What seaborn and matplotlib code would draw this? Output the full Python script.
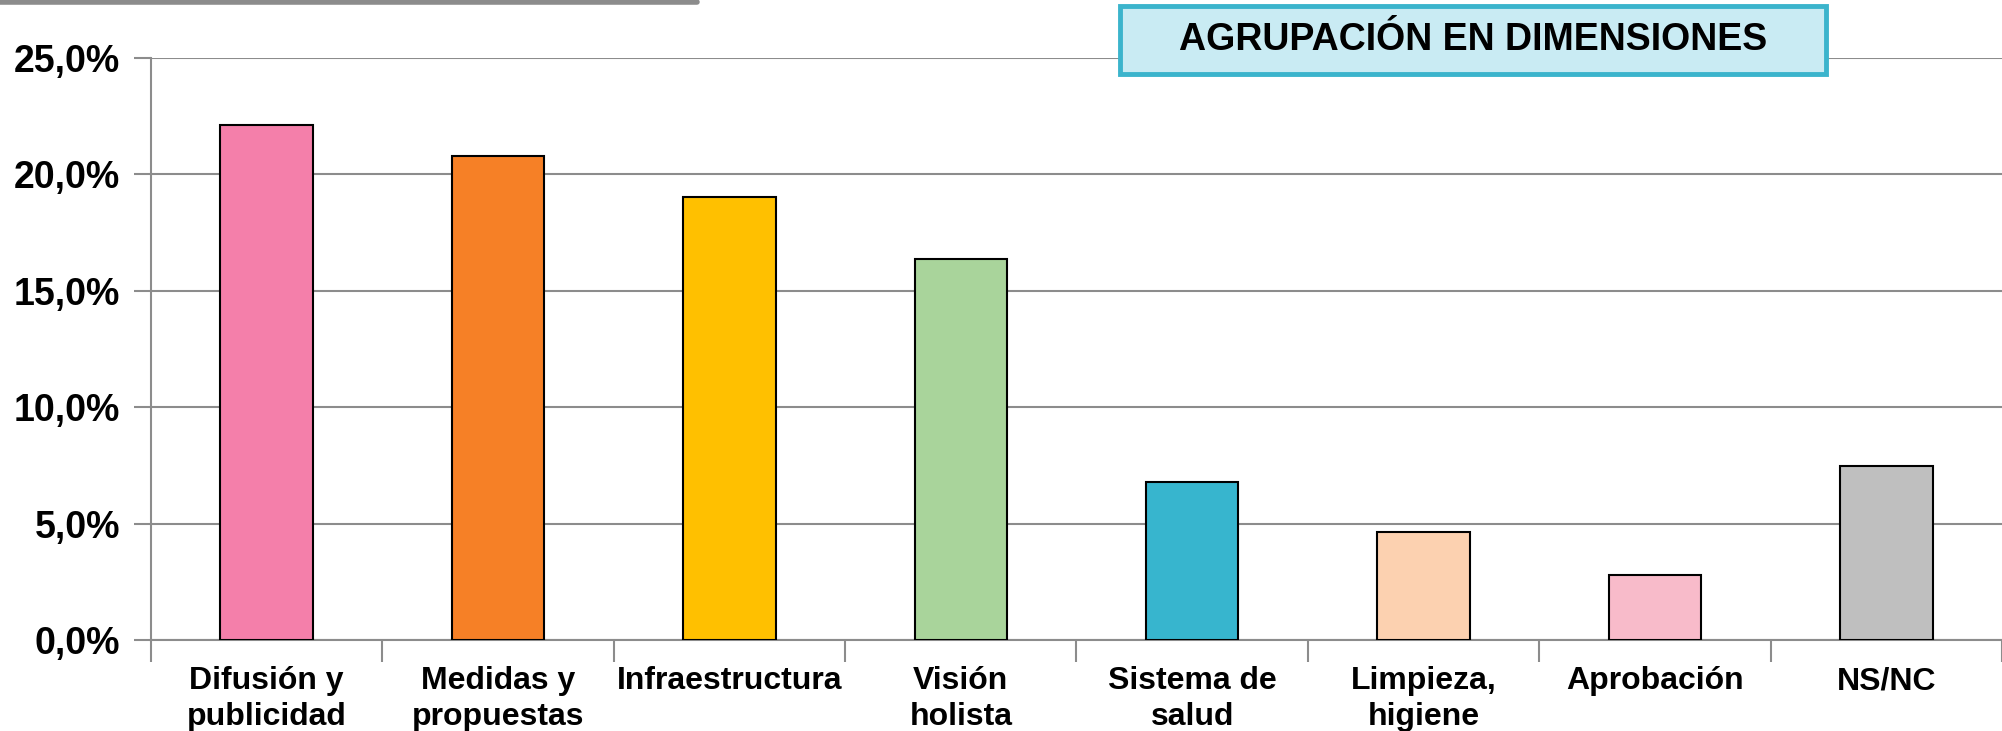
import numpy as np
import pandas as pd
import matplotlib
matplotlib.use("Agg")
import matplotlib.pyplot as plt
import matplotlib.lines as mlines
import matplotlib.patches as mpatches
import seaborn as sns

sns.set_theme(style="white")
plt.rcParams["font.family"] = ["Liberation Sans", "DejaVu Sans"]
plt.rcParams["text.color"] = "black"
plt.rcParams["xtick.labelcolor"] = "black"
plt.rcParams["ytick.labelcolor"] = "black"

categories = ["Difusión y\npublicidad", "Medidas y\npropuestas", "Infraestructura", "Visión\nholista",
              "Sistema de\nsalud", "Limpieza,\nhigiene", "Aprobación", "NS/NC"]
values = [22.1, 20.8, 19.0, 16.35, 6.8, 4.65, 2.8, 7.45]
colors = ["#F47FAA", "#F68026", "#FFC000", "#A9D49B", "#37B5CE", "#FCD1B0", "#F8BBCA", "#BFBFBF"]
yticks = [0, 5, 10, 15, 20, 25]
title = "AGRUPACIÓN EN DIMENSIONES"

df = pd.DataFrame({"cat": categories, "val": values})

fig = plt.figure(figsize=(20.02, 7.31), dpi=100)
ax = fig.add_axes([0.0754, 0.1245, 0.9246, 0.7966])

sns.barplot(data=df, x="cat", y="val", hue="cat", palette=colors, legend=False, saturation=1,
            width=0.4, edgecolor="black", linewidth=1.5, ax=ax, zorder=3)

ax.set_ylim(0, 25)
ax.set_xlim(-0.5, len(categories) - 0.5)
ax.set_yticks(yticks)
ax.set_yticklabels([f"{v:.1f}%".replace(".", ",") for v in yticks],
                   fontsize=27, fontweight="bold", color="black")
ax.yaxis.grid(True, color="#8C8C8C", linewidth=1.5, zorder=0)
ax.set_axisbelow(True)

# category boundaries as major ticks, labels on minor ticks
ax.set_xticks(np.arange(len(categories) + 1) - 0.5)
ax.set_xticklabels([])
ax.set_xticks(np.arange(len(categories)), minor=True)
ax.set_xticklabels(categories, minor=True, fontsize=23, fontweight="bold", linespacing=1.25,
                   color="black")
ax.tick_params(axis="x", which="major", direction="out", length=16, width=1.5,
               color="#8C8C8C", bottom=True)
ax.tick_params(axis="x", which="minor", length=0, pad=19)
ax.tick_params(axis="y", direction="out", length=12, width=1.5, color="#8C8C8C",
               left=True, pad=10)
ax.set_xlabel("")
ax.set_ylabel("")

for s in ["top", "right"]:
    ax.spines[s].set_visible(False)
for s in ["left", "bottom"]:
    ax.spines[s].set_color("#8C8C8C")
    ax.spines[s].set_linewidth(1.5)

# title box
fig.add_artist(mpatches.Rectangle((0.5594, 0.8988), 0.3526, 0.093, transform=fig.transFigure,
                                  facecolor="#C9EBF3", edgecolor="#3BB4CC", linewidth=3.5, zorder=5))
fig.text(0.7357, 0.9453, title, ha="center", va="center", fontsize=27, fontweight="bold",
         color="black", zorder=6)

fig.add_artist(mlines.Line2D([0, 0.348], [0.997, 0.997], color="#8C8C8C", linewidth=4,
                             transform=fig.transFigure))

plt.savefig("out.png", dpi=100)
